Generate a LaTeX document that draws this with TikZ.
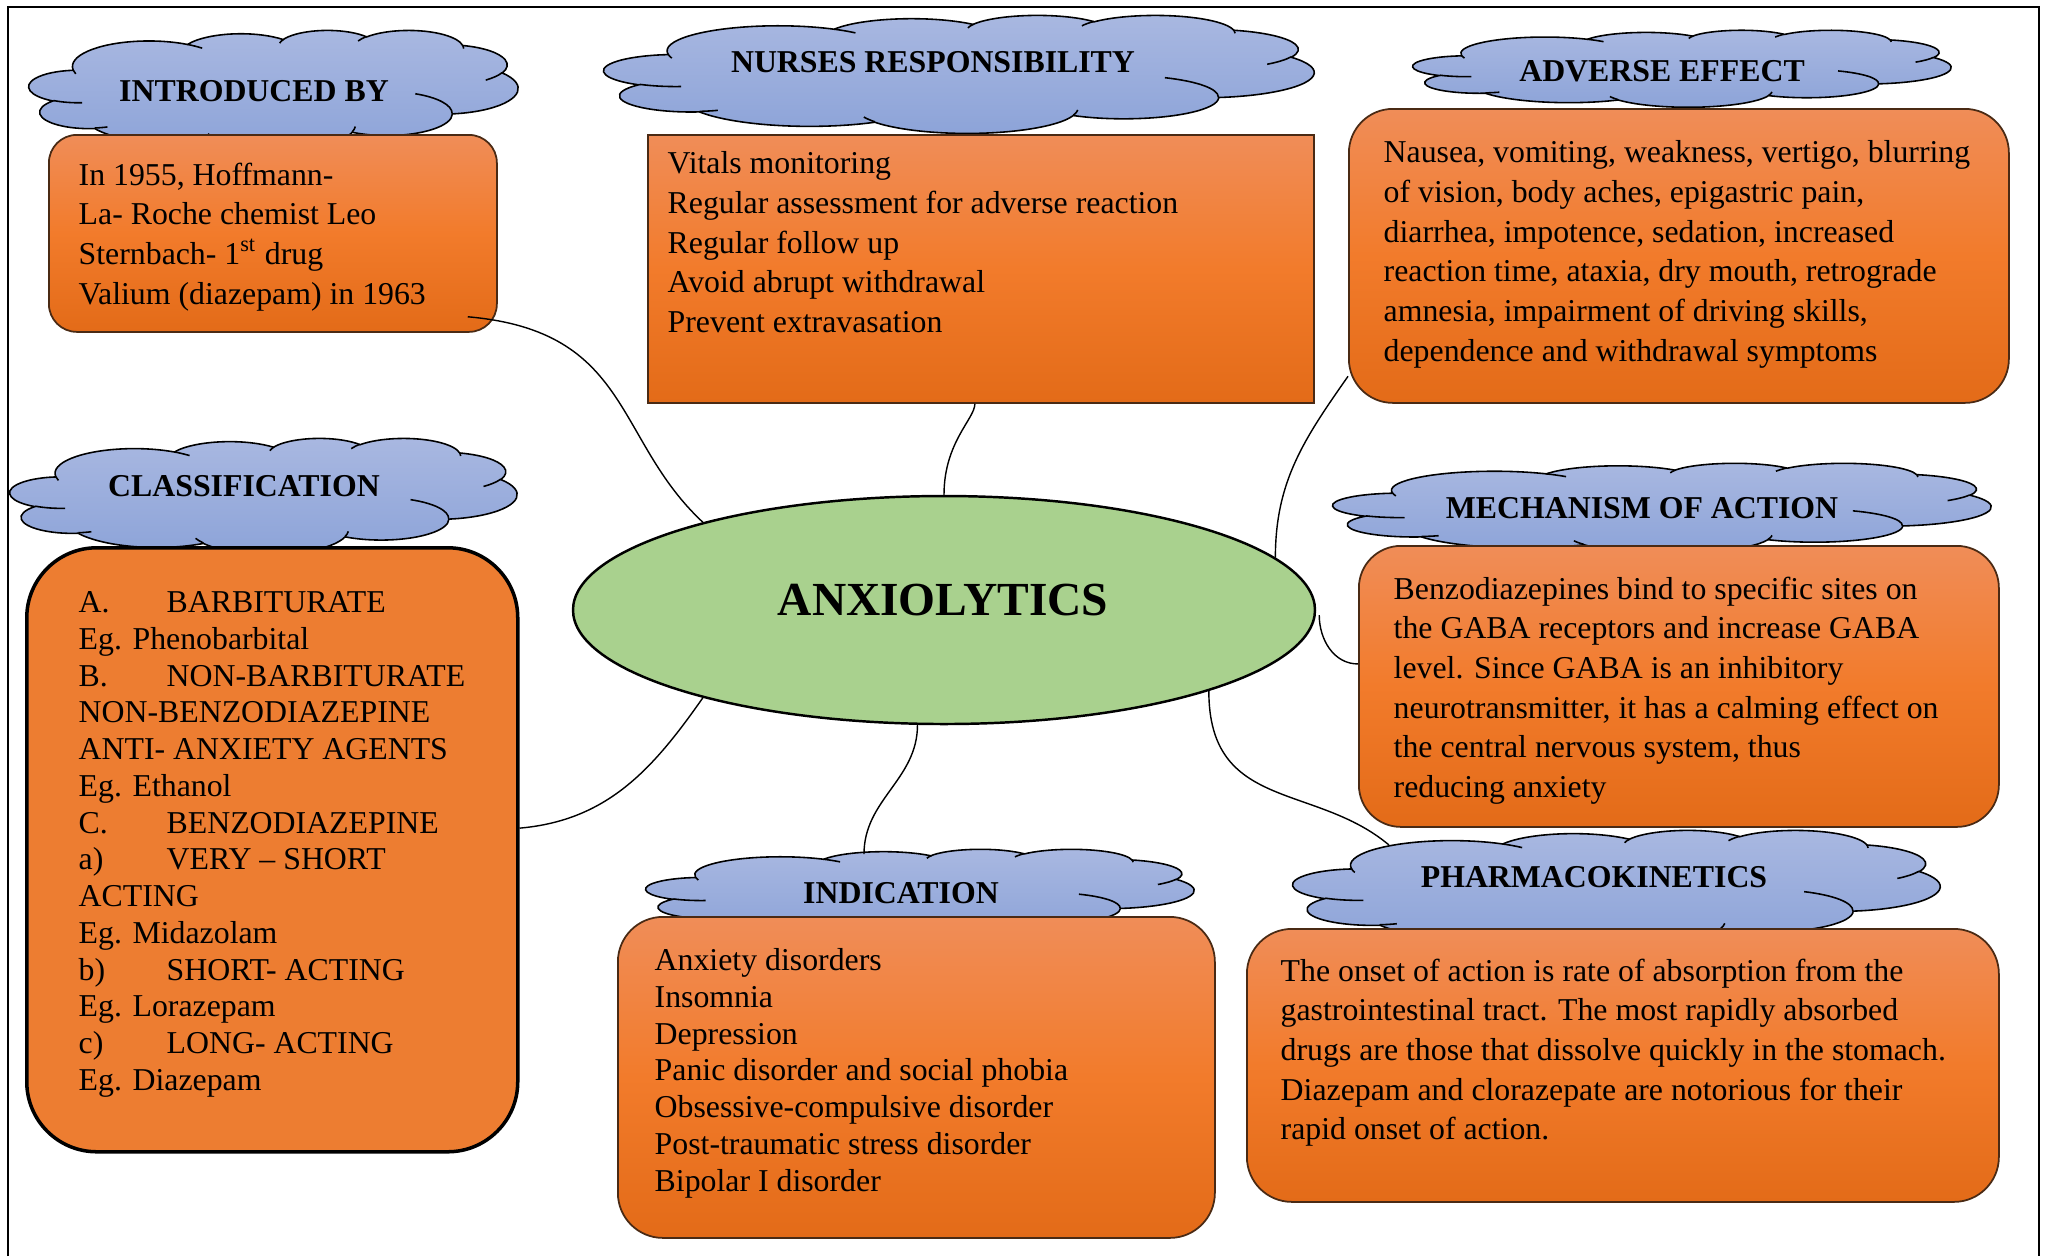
\documentclass[tikz,border=0pt]{standalone}
\usepackage{fontspec}
\setmainfont{Liberation Serif}
\usepackage{tikz}
\usetikzlibrary{shapes.geometric}

\definecolor{ciel}{HTML}{A9B8E1}
\definecolor{cielfonce}{HTML}{8CA3D8}
\definecolor{orclair}{HTML}{F08D58}
\definecolor{ormilieu}{HTML}{F27B2B}
\definecolor{orfonce}{HTML}{E36B18}
\definecolor{orplein}{HTML}{ED7D31}
\definecolor{bord}{HTML}{4A2A14}
\definecolor{vert}{HTML}{A9D18E}

\newcommand*{\corps}{\fontsize{9.05}{11.3}\selectfont}
\newcommand*{\corpsserre}{\fontsize{9.05}{10.45}\selectfont}
\newcommand*{\puce}[1]{\makebox[8.8mm][l]{#1}}

% arcs du nuage (angles vrais -> angles parametriques)
\newcommand*{\defarcnuage}[5]{%
  \pgfmathsetmacro\nuageTs{atan2((#2)*sin(#4),(#3)*cos(#4))}%
  \pgfmathsetmacro\nuageTe{atan2((#2)*sin(#4+#5),(#3)*cos(#4+#5))}%
  \pgfmathsetmacro\nuageTd{\nuageTe-\nuageTs}%
  \pgfmathsetmacro\nuageTd{\nuageTd-360*round((\nuageTd-(#5))/360)}%
  \pgfmathsetmacro\nuageTe{\nuageTs+\nuageTd}%
  \expandafter\xdef\csname arcnuage#1\endcsname{arc[x radius=#2,y radius=#3,start angle=\nuageTs,end angle=\nuageTe]}%
}
\defarcnuage{A}{67.53}{91.90}{-190.4875}{123.7805}
\defarcnuage{B}{53.33}{72.67}{-144.1024}{89.9452}
\defarcnuage{C}{43.65}{59.45}{-145.8079}{99.7230}
\defarcnuage{D}{48.57}{65.95}{-130.9861}{117.2417}
\defarcnuage{E}{53.33}{72.73}{-78.7089}{109.0269}
\defarcnuage{F}{67.75}{92.20}{-46.2673}{130.2690}
\defarcnuage{G}{57.85}{78.67}{0.6250}{114.0333}
\defarcnuage{H}{67.52}{92.15}{22.4516}{115.1726}
\defarcnuage{I}{77.20}{105.43}{66.2426}{75.7110}
\defarcnuage{J}{43.60}{59.18}{-274.9421}{146.7356}
\defarcnuage{K}{43.45}{59.45}{-246.8285}{152.5189}
\defarcnuage{La}{43.45}{59.45}{86.7420}{26.4295}
\defarcnuage{Lb}{43.60}{59.18}{73.6105}{11.4475}
\defarcnuage{Lc}{67.52}{92.15}{137.6242}{14.0811}
\defarcnuage{Ld}{67.52}{92.15}{6.4533}{15.9984}
\defarcnuage{Le}{57.85}{78.67}{-70.2924}{70.9174}
\defarcnuage{Lf}{53.33}{72.73}{30.3180}{27.7515}
\defarcnuage{Lg}{48.57}{65.95}{-13.7443}{14.8589}
\defarcnuage{Lh}{48.57}{65.95}{-149.1815}{18.1954}
\defarcnuage{Li}{43.65}{59.45}{-163.4943}{17.6864}
\defarcnuage{Lj}{67.53}{91.90}{-66.7070}{12.3194}
\defarcnuage{Lk}{67.53}{91.90}{157.6544}{11.8582}

\tikzset{
	nuage/.style={draw=black,line width=0.45pt,top color=ciel,bottom color=cielfonce},
	pli/.style={draw=black,line width=0.45pt},
	pics/cumulus/.style 2 args={code={
		\pgfmathsetlengthmacro\nuageLx{#1*0.1mm/432}
		\pgfmathsetlengthmacro\nuageLy{-#2*0.1mm/432}
		\begin{scope}[x=\nuageLx,y=\nuageLy]
			\draw[nuage] (39,143.7) \arcnuageA \arcnuageB \arcnuageC \arcnuageD
				\arcnuageE \arcnuageF \arcnuageG \arcnuageH \arcnuageI \arcnuageJ \arcnuageK -- cycle;
			\draw[pli] (46.93,261.77) \arcnuageLa (69.28,348.99) \arcnuageLb
				(164.78,390.90) \arcnuageLc (288.27,347.51) \arcnuageLd
				(341.29,229.54) \arcnuageLe (417.98,153.54) \arcnuageLf
				(383.24,54.26) \arcnuageLg (290.78,39.52) \arcnuageLh
				(221.41,47.20) \arcnuageLi (140.00,51.92) \arcnuageLj
				(41.27,157.89) \arcnuageLk;
		\end{scope}
	}},
	boite/.style={anchor=north west,inner sep=0pt,draw=bord,line width=0.5pt,
		top color=orclair,bottom color=orfonce,middle color=ormilieu},
	boiteplein/.style={anchor=north west,inner sep=0pt,draw=black,line width=1pt,fill=orplein},
	coeur/.style={ellipse,draw=black,line width=0.7pt,fill=vert,inner sep=0pt,
		minimum width=74.2mm,minimum height=22.8mm},
	titre/.style={inner sep=0pt,font=\corps\bfseries},
	texte/.style={anchor=north west,align=left,inner sep=0pt,font=\corps},
	lien/.style={draw=black,line width=0.4pt}
}

\begin{document}
\begin{tikzpicture}[x=0.1mm,y=-0.1mm]
	\useasboundingbox (0,0) rectangle (2045,1256);
	\draw[line width=0.7pt] (8,1256) -- (8,7) -- (2039,7) -- (2039,1256);

	\pic at (29,30) {cumulus={489}{120}};
	\pic at (604,15) {cumulus={710}{118}};
	\pic at (1413,30) {cumulus={538}{77}};
	\pic at (10,438) {cumulus={507}{116}};
	\pic at (1333,463) {cumulus={658}{90}};
	\pic at (646,849) {cumulus={548}{85}};
	\pic at (1293,830) {cumulus={647}{116}};

	\node[boite,minimum width=44.8mm,minimum height=19.7mm,rounded corners=2.8mm] (intro) at (48,134) {};
	\node[boite,minimum width=66.6mm,minimum height=26.8mm] (nurses) at (647,134) {};
	\node[boite,minimum width=66mm,minimum height=29.4mm,rounded corners=4.4mm] (adverse) at (1348,108) {};
	\node[boiteplein,minimum width=49.1mm,minimum height=60.4mm,rounded corners=7mm] (class) at (25,546) {};
	\node[boite,minimum width=64mm,minimum height=28.1mm,rounded corners=4.2mm] (mech) at (1358,545) {};
	\node[boite,minimum width=59.7mm,minimum height=32.1mm,rounded corners=4.5mm] (indic) at (617,916) {};
	\node[boite,minimum width=75.2mm,minimum height=27.3mm,rounded corners=4.5mm] (pharma) at (1246,928) {};

	\node[coeur] (anx) at (944,610) {};
	\node[inner sep=0pt,font=\fontsize{13.5}{16}\selectfont\bfseries] (anxTitre) at (943,600) {ANXIOLYTICS};

	\node[titre] (introTitre) at (254,91) {INTRODUCED BY};
	\node[titre] (nursesTitre) at (933,62) {NURSES RESPONSIBILITY};
	\node[titre] (adverseTitre) at (1662,71) {ADVERSE EFFECT};
	\node[titre] (classTitre) at (244,486) {CLASSIFICATION};
	\node[titre] (mechTitre) at (1642,508) {MECHANISM OF ACTION};
	\node[titre] (indicTitre) at (901,893) {INDICATION};
	\node[titre] (pharmaTitre) at (1594,877) {PHARMACOKINETICS};

	\node[texte] (introTxt) at (78,162) {In 1955, Hoffmann-\\La- Roche chemist Leo\\
		Sternbach- 1\textsuperscript{st} drug\\Valium (diazepam) in 1963};
	\node[texte] (nursesTxt) at (667,151) {Vitals monitoring\\Regular assessment for adverse reaction\\
		Regular follow up\\Avoid abrupt withdrawal\\Prevent extravasation};
	\node[texte] (adverseTxt) at (1383,140) {Nausea, vomiting, weakness, vertigo, blurring\\
		of vision, body aches, epigastric pain,\\diarrhea, impotence, sedation, increased\\
		reaction time, ataxia, dry mouth, retrograde\\amnesia, impairment of driving skills,\\
		dependence and withdrawal symptoms};
	\node[texte,font=\corpsserre] (classTxt) at (78,591) {\puce{A.}BARBITURATE\\Eg. Phenobarbital\\
		\puce{B.}NON-BARBITURATE\\NON-BENZODIAZEPINE\\ANTI- ANXIETY AGENTS\\Eg. Ethanol\\
		\puce{C.}BENZODIAZEPINE\\\puce{a)}VERY -- SHORT\\ACTING\\Eg. Midazolam\\
		\puce{b)}SHORT- ACTING\\Eg. Lorazepam\\\puce{c)}LONG- ACTING\\Eg. Diazepam};
	\node[texte] (mechTxt) at (1393,576) {Benzodiazepines bind to specific sites on\\
		the GABA receptors and increase GABA\\level. Since GABA is an inhibitory\\
		neurotransmitter, it has a calming effect on\\the central nervous system, thus\\
		reducing anxiety};
	\node[texte,font=\corpsserre] (indicTxt) at (654,948) {Anxiety disorders\\Insomnia\\Depression\\
		Panic disorder and social phobia\\Obsessive-compulsive disorder\\
		Post-traumatic stress disorder\\Bipolar I disorder};
	\node[texte] (pharmaTxt) at (1280,958) {The onset of action is rate of absorption from the\\
		gastrointestinal tract. The most rapidly absorbed\\
		drugs are those that dissolve quickly in the stomach.\\
		Diazepam and clorazepate are notorious for their\\rapid onset of action.};

	\coordinate (indicHaut) at (864,854);
	\coordinate (pharmaHaut) at (1389,845);

	\draw[lien] ([shift={(-30,-16)}]intro.south east) to[out=-5,in=137,out looseness=1.35,in looseness=1] (anx.160);
	\draw[lien] ([shift={(-6,0)}]nurses.south) to[out=-90,in=90,out looseness=0.4,in looseness=1.4] (anx.north);
	\draw[lien] (adverse.200) to[out=-125,in=90] (anx.9.5);
	\draw[lien] ([shift={(3,5)}]anx.east) to[out=-90,in=180] (mech.176);
	\draw[lien] (class.5) to[out=5,in=-125] (anx.200);
	\draw[lien] (anx.-103) to[out=-90,in=90] (indicHaut);
	\draw[lien] (anx.-17) to[out=-90,in=140,out looseness=1.3,in looseness=1.05] (pharmaHaut);
\end{tikzpicture}
\end{document}
